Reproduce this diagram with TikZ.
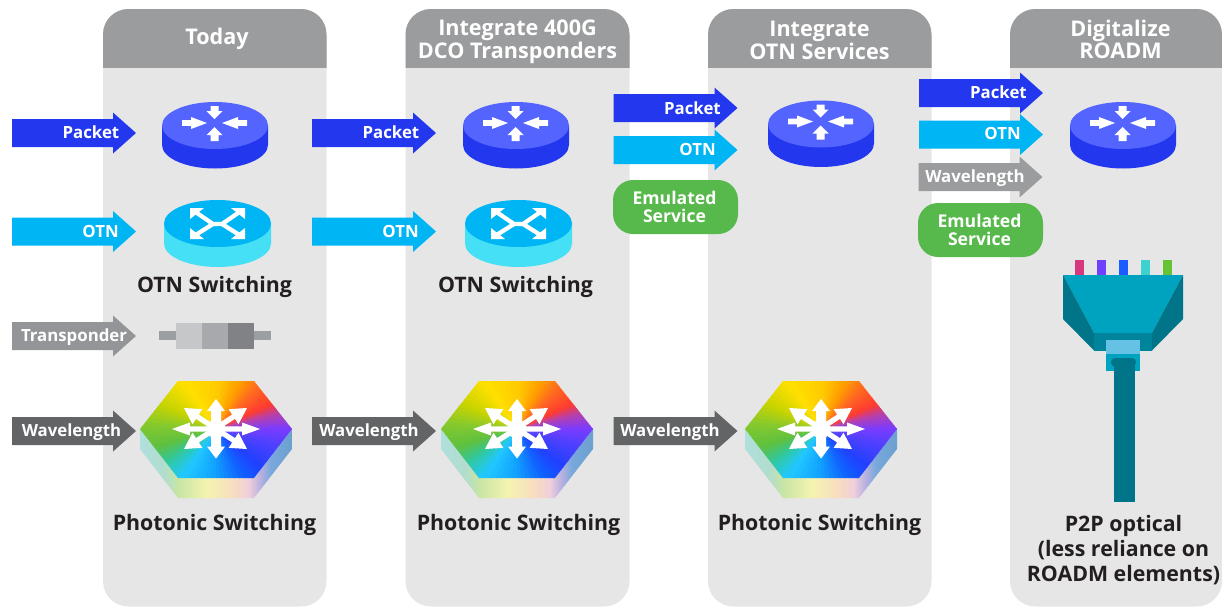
\documentclass[tikz,border=0pt]{standalone}
\usepackage{fontspec}
\setmainfont{Open Sans}
\definecolor{panelbody}{HTML}{E6E6E7}
\definecolor{panelhead}{HTML}{9B9C9E}
\definecolor{pktblue}{HTML}{2338EE}
\definecolor{pkttop}{HTML}{5464FF}
\definecolor{otnblue}{HTML}{00B5F3}
\definecolor{otnside}{HTML}{46E0F6}
\definecolor{tpgrey}{HTML}{939598}
\definecolor{wavegrey}{HTML}{636466}
\definecolor{emugreen}{HTML}{57B84B}
\definecolor{labeldark}{HTML}{231F20}
\definecolor{fibera}{HTML}{00A3BF}
\definecolor{fiberb}{HTML}{007488}
\definecolor{fiberc}{HTML}{00849B}
\definecolor{fiberd}{HTML}{66C2E5}
\definecolor{pinpink}{HTML}{D63A7C}
\definecolor{pinviolet}{HTML}{7040FF}
\definecolor{pinblue}{HTML}{1A5CFF}
\definecolor{pinteal}{HTML}{3FD0D0}
\definecolor{pingreen}{HTML}{66C333}
\definecolor{tpa}{HTML}{C6C7C8}
\definecolor{tpb}{HTML}{A7A9AC}
\definecolor{tpc}{HTML}{808285}
\definecolor{tpstub}{HTML}{9B9FA1}
\definecolor{ca}{HTML}{7A3CFF}
\definecolor{cb}{HTML}{B840A8}
\definecolor{cc}{HTML}{FF3B30}
\definecolor{cd}{HTML}{FF6A20}
\definecolor{ce}{HTML}{FF9C00}
\definecolor{cf}{HTML}{FFC800}
\definecolor{cg}{HTML}{FFE000}
\definecolor{ch}{HTML}{C8D400}
\definecolor{ci}{HTML}{80C830}
\definecolor{cj}{HTML}{5EC040}
\definecolor{ck}{HTML}{30C8A0}
\definecolor{cl}{HTML}{20C8FF}
\definecolor{cm}{HTML}{10A0FF}
\definecolor{cn}{HTML}{1060FF}
\definecolor{co}{HTML}{2040FF}
\definecolor{cp}{HTML}{5040FF}
\definecolor{sa}{HTML}{B0E0DC}
\definecolor{sb}{HTML}{B0DDCF}
\definecolor{sc}{HTML}{C8E5A5}
\definecolor{sd}{HTML}{F5F3B0}
\definecolor{se}{HTML}{F8DCC0}
\definecolor{sf}{HTML}{F0CFDC}
\definecolor{sg}{HTML}{B8B0E0}
\definecolor{sh}{HTML}{7AA8DC}
\definecolor{si}{HTML}{6AA0D0}
\pgfdeclarehorizontalshading{hexside}{100bp}{
  color(0bp)=(sa);
  color(25bp)=(sa);
  color(32.7bp)=(sb);
  color(37.6bp)=(sc);
  color(47bp)=(sd);
  color(55.8bp)=(se);
  color(60.7bp)=(sf);
  color(64.6bp)=(sg);
  color(67.9bp)=(sh);
  color(75bp)=(si);
  color(100bp)=(si)}
\tikzset{
  x=0.75pt,y=-0.75pt,
  paneltitle/.style={font=\fontsize{16.2}{15.5}\selectfont\bfseries,text=white,align=center,inner sep=0pt},
  arrowtext/.style={font=\fontsize{12.6}{13}\selectfont\bfseries,text=white,inner sep=0pt},
  emutext/.style={font=\fontsize{13.2}{13.6}\selectfont\bfseries,text=white,align=center,inner sep=0pt},
  caption/.style={font=\fontsize{16}{19}\selectfont\bfseries,text=labeldark,align=center,inner sep=0pt},
  emubox/.style={fill=emugreen,rounded corners=15pt}
}
% #1 left x, #2 centre y, #3 colour
\newcommand{\bigarrow}[3]{\fill[#3] (#1,#2-14) -- (#1+101,#2-14) -- (#1+101,#2-20.5) -- (#1+124,#2) -- (#1+101,#2+20.5) -- (#1+101,#2+14) -- (#1,#2+14) -- cycle;}
% #1 tip x, #2 tip y, #3 angle of travel direction, #4 length, #5 shaft half, #6 head length, #7 head half
\newcommand{\whitearrow}[7]{\begin{scope}[shift={(#1,#2)},rotate=#3]
  \fill[white] (0,0) -- (-#6,#7) -- (-#6,#5) -- (-#4,#5) -- (-#4,-#5) -- (-#6,-#5) -- (-#6,-#7) -- cycle;
\end{scope}}
\newcommand{\router}[2]{\begin{scope}[shift={(#1,#2)}]
  \fill[pktblue] (162,125.5) -- (162,145) arc[start angle=180,end angle=0,x radius=53,y radius=23.5] -- (268,125.5) -- cycle;
  \fill[pkttop] (215,125.5) ellipse[x radius=53,y radius=23.5];
  \whitearrow{207}{123}{0}{25}{2.8}{16}{6}
  \whitearrow{222}{123}{180}{25}{2.8}{16}{6}
  \whitearrow{214.5}{119}{-90}{13}{4}{8}{8}
  \whitearrow{214.5}{127}{90}{14}{4}{8}{8}
\end{scope}}
\newcommand{\otnswitch}[1]{\begin{scope}[shift={(#1,0)}]
  \fill[otnside] (164,223.5) -- (164,243.5) arc[start angle=180,end angle=0,x radius=53.5,y radius=23.5] -- (271,223.5) -- cycle;
  \fill[otnblue] (217.5,223.5) ellipse[x radius=53.5,y radius=23.5];
  \draw[white,line width=3.2pt] (194,211) -- (213,224) -- (222,224) -- (241,211);
  \draw[white,line width=3.2pt] (194,236) -- (213,224) (222,224) -- (241,236);
  \fill[white] (190,208) -- (204,208) -- (190,219) -- cycle;
  \fill[white] (245,208) -- (231,208) -- (245,219) -- cycle;
  \fill[white] (190,239) -- (204,239) -- (190,228) -- cycle;
  \fill[white] (245,239) -- (231,239) -- (245,228) -- cycle;
\end{scope}}
\newcommand{\hexagonnode}[1]{\begin{scope}[shift={(#1,0)}]
  \begin{scope}
    \clip (140,429) -- (178,478) -- (254,478) -- (292,429) -- (292,449) -- (254,498) -- (178,498) -- (140,449) -- cycle;
    \shade[shading=hexside] (140,425) rectangle (292,500);
  \end{scope}
  \begin{scope}
    \clip (140,429) -- (178,381) -- (254,381) -- (292,429) -- (254,478) -- (178,478) -- cycle;
    \foreach \sa/\sb/\ca/\cb in {0/14/ca/cb,14/24/cb/cc,24/45/cc/cd,45/62/cd/ce,62/85/ce/cf,85/125/cf/cg,125/155/cg/ch,155/178/ch/ci,178/197/ci/cj,197/215/cj/ck,215/235/ck/cl,235/270/cl/cm,270/300/cm/cn,300/320/cn/co,320/345/co/cp,345/360/cp/ca}{
      \foreach \st in {0,...,5}{
        \pgfmathsetmacro{\aa}{\sa+(\sb-\sa)*\st/6}
        \pgfmathsetmacro{\ab}{\sa+(\sb-\sa)*(\st+1)/6+0.6}
        \pgfmathsetmacro{\mixp}{100-(\st+0.5)*100/6}
        \fill[\ca!\mixp!\cb] (216,429) -- +({120*cos(\aa)},{-120*sin(\aa)}) -- +({120*cos(\ab)},{-120*sin(\ab)}) -- cycle;
      }
    }
  \end{scope}
  \fill[white] (216,429) circle[radius=9.5];
  \whitearrow{260}{429}{0}{44}{2.6}{18}{6.5}
  \whitearrow{172}{429}{180}{44}{2.6}{18}{6.5}
  \whitearrow{216}{399}{90}{30}{5}{12}{9}
  \whitearrow{216}{458.5}{-90}{30}{5}{12}{9}
  \whitearrow{247}{408}{33}{37}{2.6}{16}{9}
  \whitearrow{184}{408}{147}{37}{2.6}{16}{9}
  \whitearrow{247}{449}{-33}{37}{2.6}{16}{9}
  \whitearrow{184}{449}{-147}{37}{2.6}{16}{9}
\end{scope}}
\newcommand{\panel}[2]{%
  \fill[panelbody,rounded corners=19pt] (#1,9) rectangle (#2,606.5);
  \begin{scope}
    \clip (#1,9) rectangle (#2,67.5);
    \fill[panelhead,rounded corners=19pt] (#1,9) rectangle (#2,100);
  \end{scope}}
\begin{document}
\begin{tikzpicture}
\useasboundingbox (0,0) rectangle (1222,607);
\panel{103}{326.5}
\panel{405.5}{629.5}
\panel{708}{931.5}
\panel{1010}{1222}
\node[paneltitle] (t1) at (217,39) {Today};
\node[paneltitle] (t2) at (517.5,42) {Integrate 400G\\DCO Transponders};
\node[paneltitle] (t3) at (819.5,40.5) {Integrate\\OTN Services};
\node[paneltitle] (t4) at (1120.5,39.5) {Digitalize\\ROADM};
% column 1
\bigarrow{12}{133}{pktblue}
\node[arrowtext,anchor=east] (p1) at (119.5,132) {Packet};
\bigarrow{12}{231.5}{otnblue}
\node[arrowtext,anchor=east] (o1) at (119,231) {OTN};
\bigarrow{12}{336}{tpgrey}
\node[arrowtext] (x1) at (74,337) {Transponder};
\bigarrow{12}{431}{wavegrey}
\node[arrowtext] (w1) at (71.5,432.5) {Wavelength};
% column 2
\bigarrow{312}{133}{pktblue}
\node[arrowtext,anchor=east] (p2) at (419.5,132) {Packet};
\bigarrow{312}{231.5}{otnblue}
\node[arrowtext,anchor=east] (o2) at (419,231) {OTN};
\bigarrow{312}{431}{wavegrey}
\node[arrowtext] (w2) at (369,432.5) {Wavelength};
% column 3
\bigarrow{613.5}{108}{pktblue}
\node[arrowtext,anchor=east] (p3) at (721,108) {Packet};
\bigarrow{613.5}{150}{otnblue}
\node[arrowtext,anchor=east] (o3) at (716,149.5) {OTN};
\fill[emubox] (613,180) rectangle (738,234);
\node[emutext] (e3) at (674.5,207) {Emulated\\Service};
\bigarrow{613.5}{431}{wavegrey}
\node[arrowtext] (w3) at (670,432.5) {Wavelength};
% column 4
\bigarrow{919}{93}{pktblue}
\node[arrowtext,anchor=east] (p4) at (1027,92) {Packet};
\bigarrow{919}{134.5}{otnblue}
\node[arrowtext,anchor=east] (o4) at (1021,133.5) {OTN};
\bigarrow{918.5}{177}{panelhead}
\node[arrowtext] (w4) at (975,178.5) {Wavelength};
\fill[emubox] (918,203) rectangle (1043,257);
\node[emutext] (e4) at (979.5,230) {Emulated\\Service};
% routers
\router{0}{0}
\router{301}{0}
\router{606}{-1.5}
\router{908}{0}
\otnswitch{0}
\otnswitch{301}
\node[caption] (c1) at (214.5,286.5) {OTN Switching};
\node[caption] (c2) at (515.5,286.5) {OTN Switching};
% transponder
\fill[tpstub] (159,331) rectangle (271,340);
\fill[tpa] (176,323) rectangle (202,349);
\fill[tpb] (202,323) rectangle (228,349);
\fill[tpc] (228,323) rectangle (254,349);
% hexagons
\hexagonnode{0}
\hexagonnode{301}
\hexagonnode{605}
\node[caption] (c3) at (214.5,524.5) {Photonic Switching};
\node[caption] (c4) at (518.5,524.5) {Photonic Switching};
\node[caption] (c5) at (819.5,524.5) {Photonic Switching};
% fibre
\fill[pinpink] (1075,260) rectangle (1084,276);
\fill[pinviolet] (1097,260) rectangle (1106,276);
\fill[pinblue] (1119,260) rectangle (1128,276);
\fill[pinteal] (1141,260) rectangle (1150,276);
\fill[pingreen] (1163,260) rectangle (1172,276);
\fill[fibera] (1063,275) -- (1183,275) -- (1152,333) -- (1094,333) -- cycle;
\fill[fiberb] (1063,275) -- (1094,333) -- (1094,350.5) -- (1063,319) -- cycle;
\fill[fiberb] (1183,275) -- (1152,333) -- (1152,350.5) -- (1183,319) -- cycle;
\fill[fiberc] (1094,333) rectangle (1152,350.5);
\fill[fiberd] (1106,340) rectangle (1140,354);
\fill[fibera] (1106,354) rectangle (1140,371);
\fill[fiberb,rounded corners=3pt] (1111,358) rectangle (1136,366.5);
\fill[fiberb] (1114,362) rectangle (1134.5,502);
\node[caption] (c6) at (1123.5,550) {P2P optical\\(less reliance on\\ROADM elements)};
\end{tikzpicture}
\end{document}
